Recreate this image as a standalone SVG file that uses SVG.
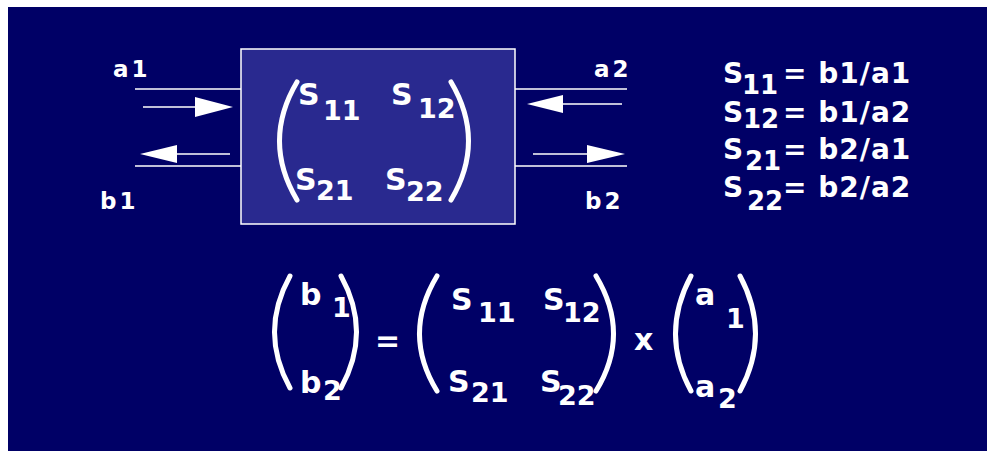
<svg xmlns="http://www.w3.org/2000/svg" width="992" height="451" viewBox="0 0 992 451">
<style>
.t{font-family:"DejaVu Sans","Liberation Sans",sans-serif;font-weight:bold;fill:#ffffff}
.lab{font-size:23px;letter-spacing:3px}
.big{font-size:30px}
.sub{font-size:27px}
.sub2{font-size:26px}
.eq{font-size:28px;letter-spacing:1px}
.ln{stroke:#ffffff;stroke-width:1.5;fill:none}
.par{stroke:#ffffff;stroke-width:5;fill:none;stroke-linecap:round}
</style>
<rect x="8" y="7" width="979" height="444" fill="#000066"/>
<g id="connectors">
<line class="ln" x1="135" y1="89" x2="241" y2="89"/>
<line class="ln" x1="135" y1="166" x2="241" y2="166"/>
<line class="ln" x1="143" y1="107" x2="196" y2="107"/>
<polygon points="195,97 233,107 195,117" fill="#fff"/>
<line class="ln" x1="176" y1="154" x2="230" y2="154"/>
<polygon points="177,145 140,154 177,163" fill="#fff"/>
<line class="ln" x1="515" y1="89" x2="627" y2="89"/>
<line class="ln" x1="515" y1="166" x2="627" y2="166"/>
<line class="ln" x1="562" y1="104" x2="622" y2="104"/>
<polygon points="563,95 527,104 563,113" fill="#fff"/>
<line class="ln" x1="533" y1="154" x2="588" y2="154"/>
<polygon points="587,145 625,154 587,163" fill="#fff"/>
</g>
<g id="labels">
<text class="t lab" x="113" y="77">a1</text>
<text class="t lab" x="100" y="209">b1</text>
<text class="t lab" x="594" y="77">a2</text>
<text class="t lab" x="585" y="209">b2</text>
</g>
<g id="two-port">
<rect x="241" y="49" width="274" height="175" fill="#29298f" stroke="#ffffff" stroke-width="1.5"/>
<path class="par" d="M297,82 Q262,141 297,200"/>
<path class="par" d="M451,82 Q486,141 451,200"/>
<text class="t big" x="298" y="105">S</text>
<text class="t sub" x="323" y="120">11</text>
<text class="t big" x="391" y="105">S</text>
<text class="t sub" x="418" y="118">12</text>
<text class="t big" x="295" y="190">S</text>
<text class="t sub" x="316" y="200">21</text>
<text class="t big" x="385" y="190">S</text>
<text class="t sub" x="406" y="201">22</text>
</g>
<g id="definitions">
<text class="t eq" x="723" y="83">S</text>
<text class="t sub2" x="742" y="94">11</text>
<text class="t eq" x="783" y="83">= b1/a1</text>
<text class="t eq" x="723" y="122">S</text>
<text class="t sub2" x="743" y="128">12</text>
<text class="t eq" x="783" y="122">= b1/a2</text>
<text class="t eq" x="723" y="159">S</text>
<text class="t sub2" x="745" y="170">21</text>
<text class="t eq" x="783" y="159">= b2/a1</text>
<text class="t eq" x="723" y="197">S</text>
<text class="t sub2" x="747" y="210">22</text>
<text class="t eq" x="783" y="197">= b2/a2</text>
</g>
<g id="equation">
<path class="par" d="M290,276 Q259,332 290,388"/>
<path class="par" d="M341,276 Q372,332 341,388"/>
<text class="t big" x="300" y="305">b</text>
<text class="t sub" x="332" y="317">1</text>
<text class="t big" x="300" y="393">b</text>
<text class="t sub" x="323" y="400">2</text>
<text class="t big" x="375" y="351">=</text>
<path class="par" d="M437,276 Q402,334 437,391"/>
<path class="par" d="M596,276 Q631,334 596,391"/>
<text class="t big" x="451" y="310">S</text>
<text class="t sub" x="478" y="322">11</text>
<text class="t big" x="543" y="310">S</text>
<text class="t sub" x="563" y="322">12</text>
<text class="t big" x="448" y="392">S</text>
<text class="t sub" x="471" y="402">21</text>
<text class="t big" x="540" y="392">S</text>
<text class="t sub" x="558" y="405">22</text>
<text class="t big" x="634" y="350">x</text>
<path class="par" d="M691,276 Q660,334 691,391"/>
<path class="par" d="M740,276 Q771,334 740,391"/>
<text class="t big" x="695" y="305">a</text>
<text class="t sub" x="726" y="328">1</text>
<text class="t big" x="695" y="397">a</text>
<text class="t sub" x="718" y="408">2</text>
</g>
</svg>
